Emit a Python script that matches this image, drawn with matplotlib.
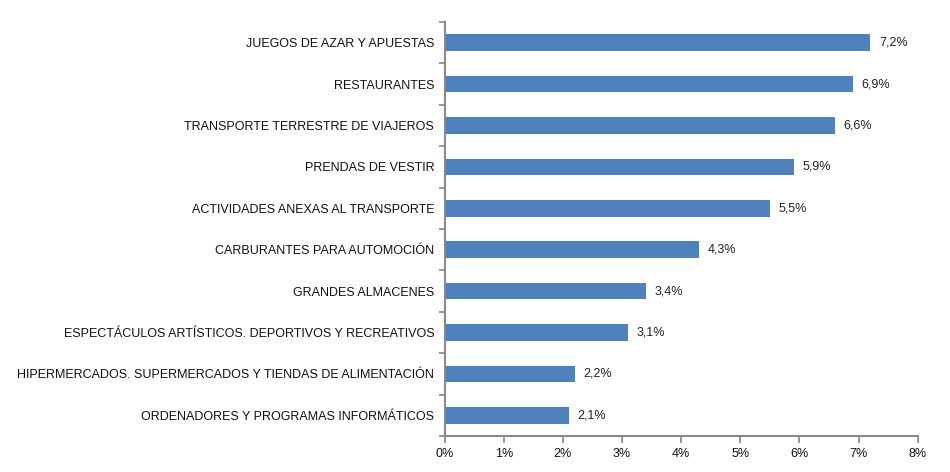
import matplotlib
matplotlib.use("Agg")
import matplotlib.pyplot as plt
import numpy as np

categories = [
    "JUEGOS DE AZAR Y APUESTAS",
    "RESTAURANTES",
    "TRANSPORTE TERRESTRE DE VIAJEROS",
    "PRENDAS DE VESTIR",
    "ACTIVIDADES ANEXAS AL TRANSPORTE",
    "CARBURANTES PARA AUTOMOCIÓN",
    "GRANDES ALMACENES",
    "ESPECTÁCULOS ARTÍSTICOS. DEPORTIVOS Y RECREATIVOS",
    "HIPERMERCADOS. SUPERMERCADOS Y TIENDAS DE ALIMENTACIÓN",
    "ORDENADORES Y PROGRAMAS INFORMÁTICOS",
]
values = [7.2, 6.9, 6.6, 5.9, 5.5, 4.3, 3.4, 3.1, 2.2, 2.1]
value_labels = ["7,2%", "6,9%", "6,6%", "5,9%", "5,5%", "4,3%", "3,4%", "3,1%", "2,2%", "2,1%"]
xticks = [0, 1, 2, 3, 4, 5, 6, 7, 8]
xtick_labels = ["0%", "1%", "2%", "3%", "4%", "5%", "6%", "7%", "8%"]

plt.rcParams['font.family'] = ['Liberation Sans', 'DejaVu Sans']

fig = plt.figure(figsize=(9.5, 4.72), dpi=100)
ax = fig.add_axes([0.468, 0.0763, 0.498, 0.877])

y = np.arange(len(categories))
ax.barh(y, values, height=0.4, color="#4F81BD")
for yi, v, lab in zip(y, values, value_labels):
    ax.text(v + 0.15, yi, lab, va="center", ha="left", fontsize=9, color="#222222")

ax.set_ylim(len(categories) - 0.5, -0.5)
ax.set_xlim(0, 8)
ax.set_yticks(y)
ax.set_yticklabels(categories, fontsize=9, color="#111111")
ax.set_yticks(np.arange(-0.5, len(categories), 1), minor=True)
ax.tick_params(axis='y', which='major', length=0, pad=7.5)
ax.tick_params(axis='y', which='minor', length=4, width=1.2, color="#888888")
ax.set_xticks(xticks)
ax.set_xticklabels(xtick_labels, fontsize=9, color="#111111")
ax.tick_params(axis='x', length=5, width=1.2, color="#888888", pad=4)

for s in ["top", "right"]:
    ax.spines[s].set_visible(False)
for s in ["left", "bottom"]:
    ax.spines[s].set_color("#888888")
    ax.spines[s].set_linewidth(1.5)

fig.savefig("out.png", dpi=100)
